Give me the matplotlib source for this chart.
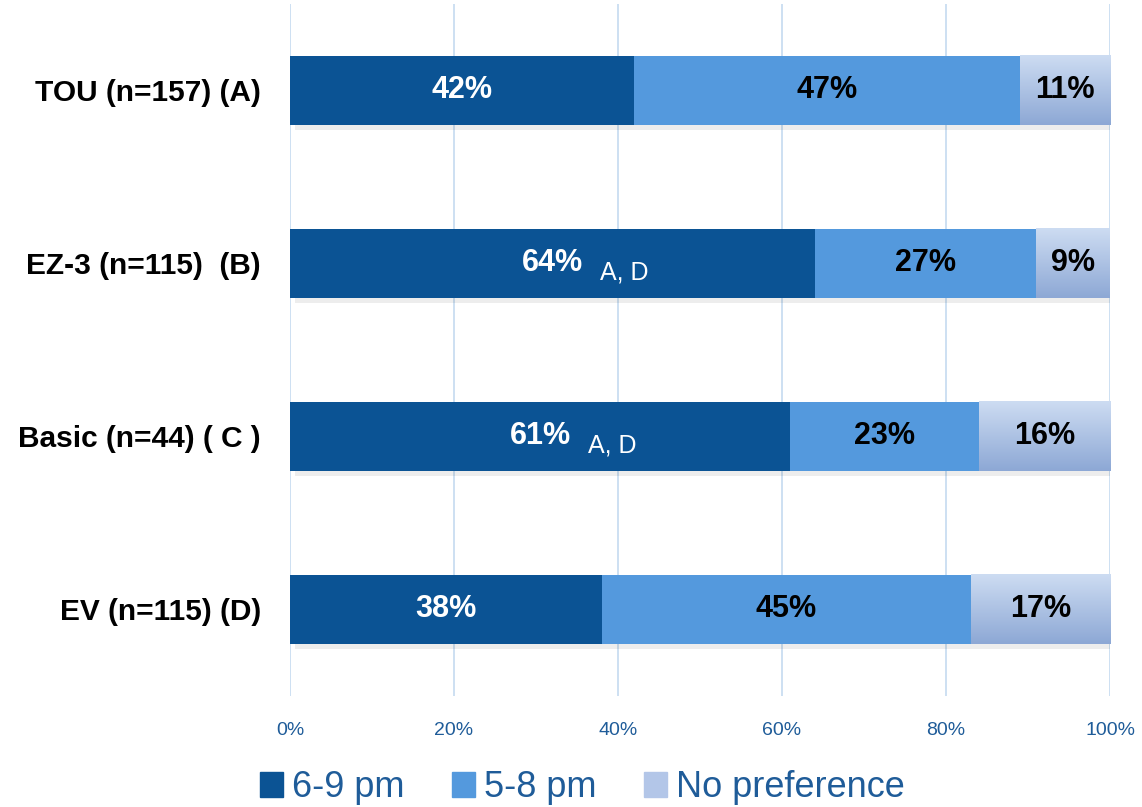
import matplotlib.pyplot as plt
import numpy as np
from matplotlib.patches import Patch

categories = ['TOU (n=157) (A)', 'EZ-3 (n=115)  (B)', 'Basic (n=44) ( C )', 'EV (n=115) (D)']
six_nine = [42, 64, 61, 38]
five_eight = [47, 27, 23, 45]
no_pref = [11, 9, 16, 17]
sig_notes = ['', 'A, D', 'A, D', '']
series_names = ['6-9 pm', '5-8 pm', 'No preference']

plt.rcParams['font.family'] = ['Liberation Sans', 'DejaVu Sans']

dark = '#0b5394'
mid = '#5499dd'
light_top = np.array([0xcd, 0xdc, 0xf2]) / 255
light_bot = np.array([0x8d, 0xa8, 0xd5]) / 255
txt_blue = '#1f5c99'

fig = plt.figure(figsize=(11.42, 8.07), dpi=100)
ax = fig.add_axes([0.254, 0.1375, 0.718, 0.858])

y = np.arange(len(categories))
h = 0.4

# soft shadow under bars
for yi in y:
    ax.barh(yi + 0.03, 100, height=h, left=0.6, color='#000000', alpha=0.07, zorder=1)

ax.barh(y, six_nine, height=h, color=dark, zorder=2)
ax.barh(y, five_eight, height=h, left=six_nine, color=mid, zorder=2)
lefts = np.array(six_nine) + np.array(five_eight)

grad = np.linspace(0, 1, 100)[:, None, None] * (light_bot - light_top) + light_top
for yi, l, w in zip(y, lefts, no_pref):
    ax.imshow(grad, extent=[l, l + w, yi + h / 2, yi - h / 2], aspect='auto', zorder=2.5)

for yi in y:
    ax.text(six_nine[yi] / 2, yi, f'{six_nine[yi]}%', ha='center', va='center',
            color='white', fontsize=22, fontweight='bold', zorder=3)
    if sig_notes[yi]:
        ax.text(six_nine[yi] / 2 + 5.8, yi + 0.055, sig_notes[yi], ha='left', va='center',
                color='white', fontsize=18, zorder=3)
    ax.text(six_nine[yi] + five_eight[yi] / 2, yi, f'{five_eight[yi]}%', ha='center',
            va='center', color='black', fontsize=22, fontweight='bold', zorder=3)
    ax.text(lefts[yi] + no_pref[yi] / 2, yi, f'{no_pref[yi]}%', ha='center',
            va='center', color='black', fontsize=22, fontweight='bold', zorder=3)

ax.set_xlim(0, 100)
ax.set_ylim(len(categories) - 0.5, -0.5)
ax.set_yticks(y)
ax.set_yticklabels(categories, fontsize=21.5, fontweight='bold')
ax.set_xticks(np.arange(0, 101, 20))
ax.set_xticklabels([f'{v}%' for v in range(0, 101, 20)], fontsize=14, color=txt_blue)
ax.tick_params(axis='x', length=0, pad=19)
ax.tick_params(axis='y', length=0, pad=21)
ax.xaxis.grid(True, color='#c5daf0', linewidth=1.2, zorder=0)
ax.set_axisbelow(True)
for s in ax.spines.values():
    s.set_visible(False)

handles = [Patch(color=dark), Patch(color=mid), Patch(color='#b3c6e8')]
leg = fig.legend(handles, series_names, loc='lower center', bbox_to_anchor=(0.51, -0.038),
                 ncol=3, frameon=False, fontsize=26, handlelength=0.65, handleheight=0.65,
                 handletextpad=0.25, columnspacing=1.3)
for t in leg.get_texts():
    t.set_color(txt_blue)

fig.savefig('out.png', dpi=100)
